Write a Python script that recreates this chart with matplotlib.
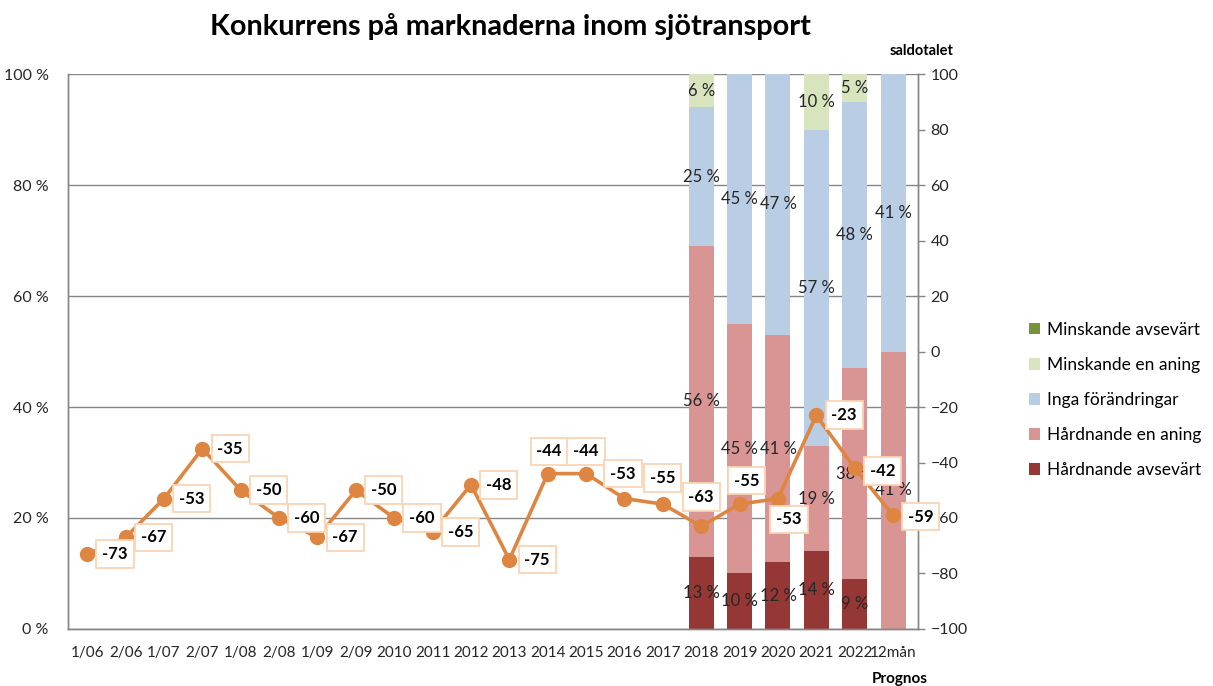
import matplotlib
matplotlib.use("Agg")
import matplotlib.pyplot as plt
from matplotlib.patches import Patch
import numpy as np

plt.rcParams['font.family'] = ['Lato', 'DejaVu Sans']

# kategorier och värden
categories = ['1/06', '2/06', '1/07', '2/07', '1/08', '2/08', '1/09', '2/09',
              '2010', '2011', '2012', '2013', '2014', '2015', '2016', '2017',
              '2018', '2019', '2020', '2021', '2022', '12mån']
saldotal = [-73, -67, -53, -35, -50, -60, -67, -50, -60, -65, -48, -75,
            -44, -44, -53, -55, -63, -55, -53, -23, -42, -59]

bar_categories = ['2018', '2019', '2020', '2021', '2022', '12mån']
hardnande_avsevart = [13, 10, 12, 14, 9, 0]
hardnande_en_aning = [56, 45, 41, 19, 38, 50]
inga_forandringar = [25, 45, 47, 57, 48, 50]
minskande_en_aning = [6, 0, 0, 10, 5, 0]
minskande_avsevart = [0, 0, 0, 0, 0, 0]

# etiketter som de står i diagrammet (12mån visar 41 %)
hardnande_en_aning_lbl = [56, 45, 41, 19, 38, 41]
inga_forandringar_lbl = [25, 45, 47, 57, 48, 41]

# etikettförskjutning för linjen (punkter)
label_offsets = [(20, 0)] * 12 + [(1, 16), (0, 16), (-1, 18), (0, 19), (0, 21),
                                  (5, 17), (8, -15), (20, 0), (20, -2), (20, -1)]

series = [
    ('Hårdnande avsevärt', hardnande_avsevart, hardnande_avsevart, '#953735'),
    ('Hårdnande en aning', hardnande_en_aning, hardnande_en_aning_lbl, '#D99594'),
    ('Inga förändringar', inga_forandringar, inga_forandringar_lbl, '#B9CDE5'),
    ('Minskande en aning', minskande_en_aning, minskande_en_aning, '#D7E4BD'),
    ('Minskande avsevärt', minskande_avsevart, minskande_avsevart, '#77933C'),
]

fig = plt.figure(figsize=(12.13, 6.86), dpi=100)
ax = fig.add_axes([0.0561, 0.0831, 0.7007, 0.809])
ax2 = ax.twinx()

x = np.arange(len(categories))
bx = np.array([categories.index(c) for c in bar_categories])
bottom = np.zeros(len(bar_categories))
for name, vals, lbls, color in series:
    vals = np.array(vals, dtype=float)
    ax.bar(bx, vals, width=0.65, bottom=bottom, color=color, zorder=2)
    for xi, b, v, l in zip(bx, bottom, vals, lbls):
        if v > 0:
            ax.text(xi, b + v / 2, f'{l} %', ha='center', va='center',
                    fontsize=12, color='#262626', zorder=3)
    bottom += vals

ax.set_xlim(-0.5, len(categories) - 0.35)
ax.set_ylim(0, 100)
ax.set_yticks(range(0, 101, 20))
ax.set_yticklabels([f'{v} %' for v in range(0, 101, 20)])
ax.set_xticks(x)
ax.set_xticklabels(categories)
ax.yaxis.grid(True, color='#868686', linewidth=1, zorder=0)
ax.set_axisbelow(True)
ax.tick_params(axis='x', length=0, pad=12, labelsize=11, colors='#262626')
ax.tick_params(axis='y', length=0, pad=14, labelsize=11.5, colors='#262626')

ax2.plot(x, saldotal, color='#DE8641', linewidth=2.6, marker='o',
         markersize=10, zorder=4)
for xi, v, (dx, dy) in zip(x, saldotal, label_offsets):
    ax2.annotate(str(v), (xi, v), xytext=(dx, dy), textcoords='offset points',
                 ha='center', va='center', fontsize=12, fontweight='bold',
                 color='black', zorder=5,
                 bbox=dict(boxstyle='square,pad=0.35', fc='white',
                           ec='#FBD4B4', lw=1.3))
ax2.set_ylim(-100, 100)
ax2.set_yticks(range(-100, 101, 20))
ax2.tick_params(axis='y', length=5, width=1, color='#868686', labelsize=11.5,
                labelcolor='#262626', pad=4)

for a in (ax, ax2):
    for s in a.spines.values():
        s.set_color('#868686')
        s.set_linewidth(1)
ax.spines['top'].set_visible(False)
ax2.spines['top'].set_visible(False)

fig.text(0.421, 0.962, 'Konkurrens på marknaderna inom sjötransport',
         ha='center', va='center', fontsize=20.8, fontweight='bold')
fig.text(0.760, 0.926, 'saldotalet', ha='center', va='center',
         fontsize=10.5, fontweight='bold')
fig.text(0.742, 0.010, 'Prognos', ha='center', va='center',
         fontsize=11, fontweight='bold')

handles = [Patch(facecolor=c, label=n) for n, _, _, c in reversed(series)]
fig.legend(handles=handles, loc='center left', bbox_to_anchor=(0.848, 0.417),
           frameon=False, fontsize=12.5, handlelength=0.65, handleheight=0.65,
           handletextpad=0.4, labelspacing=1.1, borderaxespad=0,
           borderpad=0)

fig.savefig('out.png', dpi=100)
